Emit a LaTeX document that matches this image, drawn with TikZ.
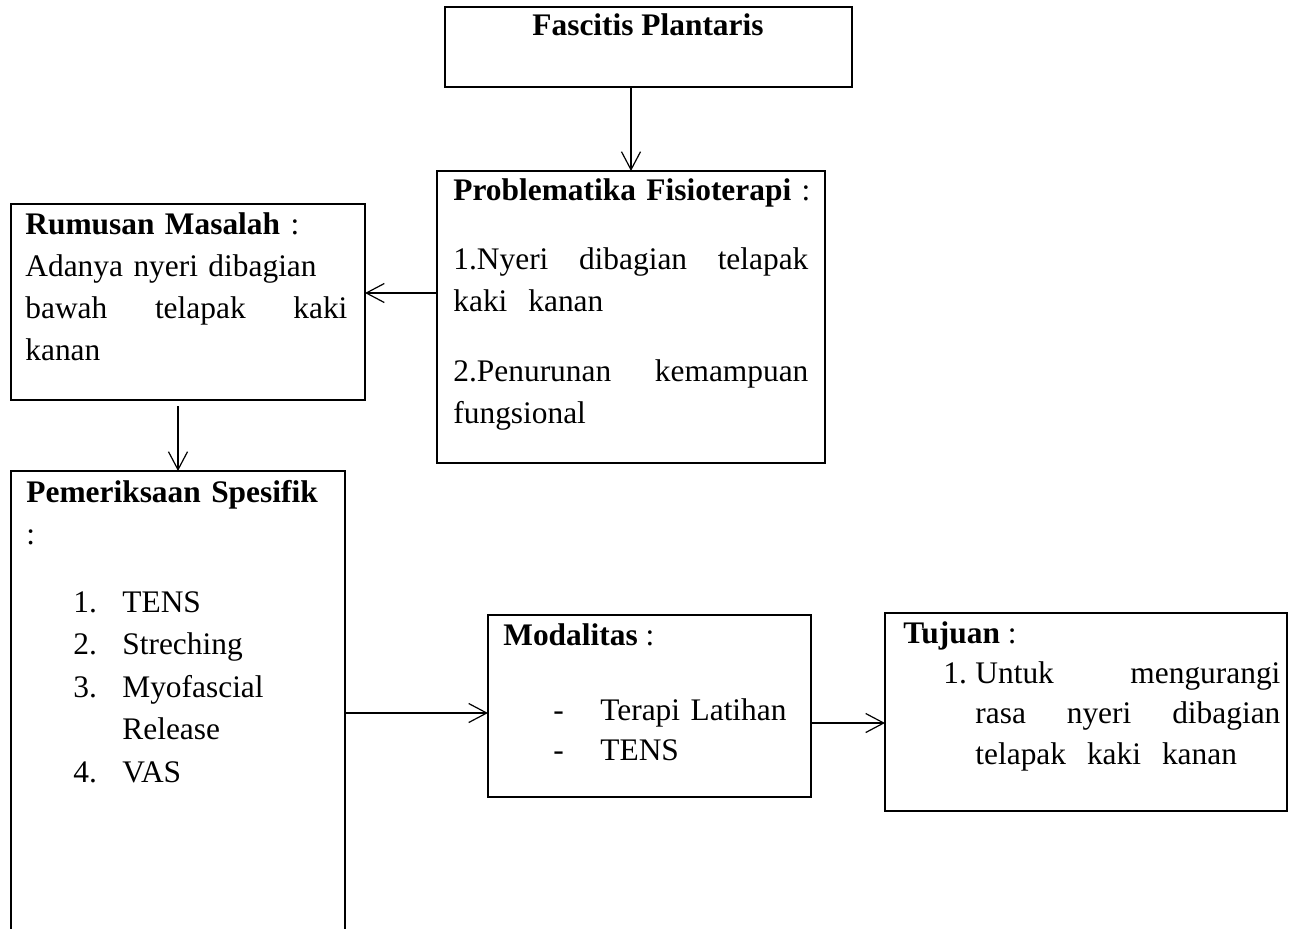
\documentclass[tikz,border=0pt]{standalone}
\usepackage{fontspec}
\setmainfont{Liberation Serif}
\usetikzlibrary{arrows.meta}

\begin{document}
\begin{tikzpicture}[x=0.5pt, y=-0.5pt,
    box/.style={draw, line width=0.6pt, anchor=north west, inner sep=0pt, outer sep=0pt},
    txt/.style={anchor=base west, inner sep=0pt, align=left, font=\fontsize{15.7}{21}\selectfont},
    arr/.style={line width=0.6pt, -{Straight Barb[length=9pt, width=9.5pt, line width=0.6pt]}}]
    \useasboundingbox (0,0) rectangle (1290,928);
    \clip (0,0) rectangle (1290,928);
    % boxes
    \node[box, minimum width=203.5pt, minimum height=40pt] (fasc) at (445,7) {};
    \node[box, minimum width=194pt, minimum height=146pt] (prob) at (437,171) {};
    \node[box, minimum width=177pt, minimum height=98pt] (rum) at (11,204) {};
    \node[box, minimum width=167pt, minimum height=245pt] (pem) at (11,471) {};
    \node[box, minimum width=161.5pt, minimum height=91pt] (mod) at (488,615) {};
    \node[box, minimum width=201pt, minimum height=99pt] (tuj) at (885,613) {};
    % texts
    \node[txt, anchor=base] (fascT) at (648,35) {\textbf{Fascitis Plantaris}};
    \node[txt, text width=177.5pt] (probT) at (453,200) {\mbox{\textbf{Problematika Fisioterapi} :}\\[13.5pt]
        1.Nyeri\hfill dibagian\hfill telapak\\
        kaki~~kanan\\[14pt]
        2.Penurunan\hfill kemampuan\\
        fungsional};
    \node[txt, text width=161pt] (rumT) at (25,234) {\textbf{Rumusan Masalah} :\\
        Adanya nyeri dibagian\\
        bawah\hfill telapak\hfill kaki\\
        kanan};
    \node[txt, text width=160pt] (pemT) at (26,502) {\textbf{Pemeriksaan Spesifik}\\ :};
    \node[txt, text width=130pt, font=\fontsize{15.7}{21.25}\selectfont] (pemL) at (73,612) {\makebox[24.5pt][l]{1.}TENS\\
        \makebox[24.5pt][l]{2.}Streching\\
        \makebox[24.5pt][l]{3.}Myofascial\\
        \hspace*{24.5pt}Release\\
        \makebox[24.5pt][l]{4.}VAS};
    \node[txt] (modT) at (503,645) {\textbf{Modalitas} :};
    \node[txt, text width=120pt, font=\fontsize{15.7}{20}\selectfont] (modL) at (553,720) {\makebox[23.5pt][l]{-}Terapi Latihan\\
        \makebox[23.5pt][l]{-}TENS};
    \node[txt] (tujT) at (903,643) {\textbf{Tujuan} :};
    \node[txt] (tujN) at (943,683) {1.};
    \node[txt, text width=152.5pt, font=\fontsize{15.7}{20.25}\selectfont] (tujL) at (975,683) {Untuk\hfill mengurangi\\
        rasa\hfill nyeri\hfill dibagian\\
        telapak~~kaki~~kanan};
    % connectors
    \draw[arr] (prob.north |- fasc.south) -- (prob.north);
    \draw[arr] (prob.west |- 0,293) -- (rum.east |- 0,293);
    \draw[arr, shorten <=3pt] (pem.north |- rum.south) -- (pem.north);
    \draw[arr] (pem.east |- 0,713) -- (mod.west |- 0,713);
    \draw[arr] (mod.east |- 0,723) -- (tuj.west |- 0,723);
\end{tikzpicture}
\end{document}
